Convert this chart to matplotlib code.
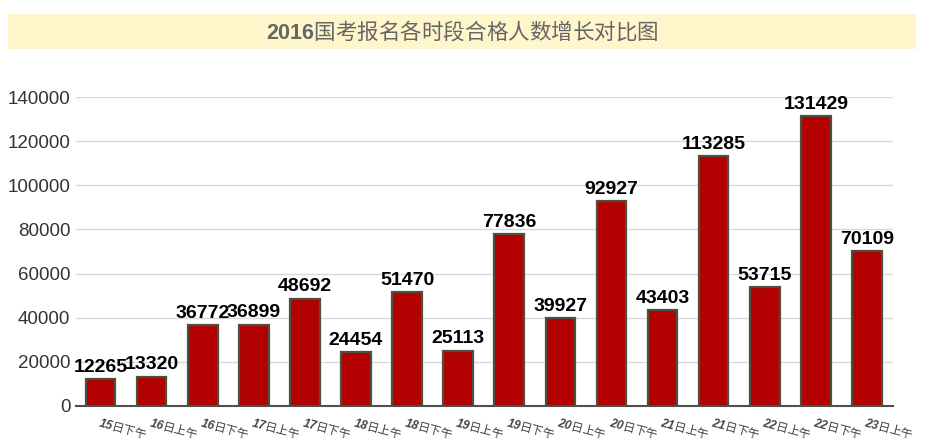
import matplotlib
matplotlib.use("Agg")
import matplotlib.pyplot as plt
from matplotlib.patches import Rectangle

periods = ["15日下午", "16日上午", "16日下午", "17日上午", "17日下午", "18日上午",
           "18日下午", "19日上午", "19日下午", "20日上午", "20日下午", "21日上午",
           "21日下午", "22日上午", "22日下午", "23日上午"]
counts = [12265, 13320, 36772, 36899, 48692, 24454, 51470, 25113,
          77836, 39927, 92927, 43403, 113285, 53715, 131429, 70109]
yticks = [0, 20000, 40000, 60000, 80000, 100000, 120000, 140000]
title = "2016国考报名各时段合格人数增长对比图"

plt.rcParams['font.family'] = ['Liberation Sans', 'Noto Sans CJK SC', 'DejaVu Sans']
plt.rcParams['mathtext.fontset'] = 'custom'
plt.rcParams['mathtext.rm'] = 'Liberation Sans'
plt.rcParams['mathtext.bf'] = 'Liberation Sans:bold'
plt.rcParams['mathtext.it'] = 'Liberation Sans:italic'
plt.rcParams['mathtext.bfit'] = 'Liberation Sans:bold:italic'
cjk = ['Noto Sans CJK SC']

fig = plt.figure(figsize=(9.25, 4.43), dpi=100)
ax = fig.add_axes([76 / 925, 1 - 406 / 443, 817 / 925, 309 / 443])

# title banner
fig.patches.append(Rectangle((8 / 925, 1 - 49 / 443), 908 / 925, 35 / 443,
                             transform=fig.transFigure, facecolor='#fff6cc',
                             edgecolor='none', zorder=0))
fig.text(0.5, 1 - 31 / 443, r"$\mathbf{2016}$" + title[4:], ha='center', va='center',
         fontsize=15.5, color='#666666', family=cjk)

x = range(len(counts))
ax.bar(x, counts, width=0.58, color='#b30000', edgecolor='#4f4f40', linewidth=1.6, zorder=3)
for i, v in enumerate(counts):
    ax.text(i, v + 1500, str(v), ha='center', va='bottom', fontsize=14,
            fontweight='bold', color='black', zorder=4)

ax.set_xlim(-0.48, len(counts) - 0.49)
ax.set_ylim(0, 140000)
ax.set_yticks(yticks)
ax.set_yticklabels([str(t) for t in yticks], fontsize=13.5, color='#333333')
ax.yaxis.grid(True, color='#d9d9d9', linewidth=1, zorder=0)
ax.set_axisbelow(True)
for s in ['top', 'right', 'left']:
    ax.spines[s].set_visible(False)
ax.spines['bottom'].set_color('#4f4f4f')
ax.spines['bottom'].set_linewidth(1.5)
ax.tick_params(axis='y', length=0, pad=4)
ax.tick_params(axis='x', length=0, pad=6)

ax.set_xticks(list(x))
labels = [r"$\mathbfit{" + p[:2] + "}$" + p[2:] for p in periods]
ax.set_xticklabels(labels, rotation=-15, ha='left', va='top', rotation_mode='anchor',
                   fontsize=8.5, color='#444444', family=cjk)

fig.savefig("out.png", dpi=100)
